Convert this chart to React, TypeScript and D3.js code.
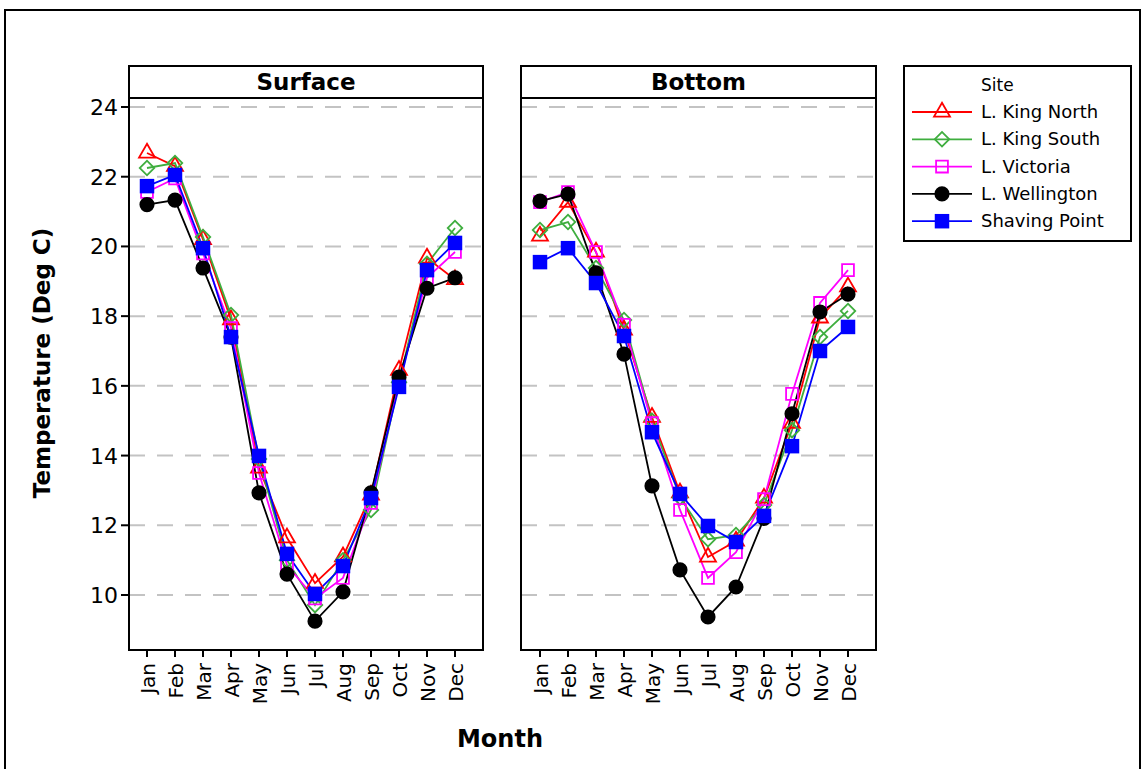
import React from "react";
import * as d3 from "d3";

const months = ["Jan","Feb","Mar","Apr","May","Jun","Jul","Aug","Sep","Oct","Nov","Dec"];
const sites = ["L. King North","L. King South","L. Victoria","L. Wellington","Shaving Point"];
const yTicks = [10,12,14,16,18,20,22,24];

const surfaceKingNorth = [22.68,22.3,20.2,17.9,13.64,11.64,10.34,11.1,12.87,16.45,19.67,19.05];
const surfaceKingSouth = [22.25,22.39,20.27,18.03,13.9,11.0,9.71,11.0,12.44,16.1,19.5,20.53];
const surfaceVictoria = [21.56,21.95,19.8,17.66,13.5,10.86,9.9,10.49,12.64,16.1,19.1,19.84];
const surfaceWellington = [21.2,21.33,19.38,17.4,12.93,10.6,9.25,10.09,12.93,16.25,18.8,19.1];
const surfaceShaving = [21.73,22.05,19.95,17.4,13.99,11.18,10.03,10.83,12.78,15.97,19.32,20.1];

const bottomKingNorth = [20.3,21.27,19.84,17.6,15.1,12.93,11.09,11.55,12.78,14.93,17.95,18.84];
const bottomKingSouth = [20.47,20.7,19.38,17.89,15.0,12.8,11.6,11.72,12.58,14.73,17.4,18.15];
const bottomVictoria = [21.27,21.56,19.84,17.75,14.93,12.44,10.49,11.23,12.75,15.77,18.38,19.32];
const bottomWellington = [21.3,21.5,19.24,16.91,13.13,10.72,9.37,10.23,12.2,15.2,18.12,18.63];
const bottomShaving = [19.55,19.95,18.95,17.43,14.67,12.9,11.98,11.52,12.27,14.27,17.0,17.69];

const panels = [
  { title: "Surface", series: [surfaceKingNorth, surfaceKingSouth, surfaceVictoria, surfaceWellington, surfaceShaving] },
  { title: "Bottom", series: [bottomKingNorth, bottomKingSouth, bottomVictoria, bottomWellington, bottomShaving] },
];

const colors = ["#ff0000", "#3fae3f", "#ff00ff", "#000000", "#0000ff"];
const FONT = "'DejaVu Sans', Verdana, sans-serif";

type Style = { type: any; size: number; fill: string; rotate: number; open: boolean };
const styles: Style[] = [
  { type: d3.symbolTriangle, size: 110, fill: "none", rotate: 0, open: true },
  { type: d3.symbolSquare, size: 105, fill: "none", rotate: 45, open: true },
  { type: d3.symbolSquare, size: 140, fill: "none", rotate: 0, open: true },
  { type: d3.symbolCircle, size: 180, fill: "#000000", rotate: 0, open: false },
  { type: d3.symbolSquare, size: 210, fill: "#0000ff", rotate: 0, open: false },
];

function Marker({ i, x, y }: { i: number; x: number; y: number }) {
  const s = styles[i];
  const d = d3.symbol().type(s.type).size(s.size)() as string;
  return (
    <path
      d={d}
      transform={`translate(${x},${y}) rotate(${s.rotate})`}
      fill={s.open ? "white" : s.fill}
      fillOpacity={s.open ? 0 : 1}
      stroke={colors[i]}
      strokeWidth={s.open ? 1.8 : 0}
    />
  );
}

export default function App() {
  const W = 1144, H = 769;
  const panelTop = 98, panelBottom = 650, headerTop = 66;
  const panelX = [[129, 483], [521, 876]];
  const tickX = [[147, 455], [540, 848]];
  const y = d3.scaleLinear().domain([10, 24]).range([595, 107]);

  return (
    <svg width={W} height={H} style={{ position: "absolute", left: 0, top: 0, background: "white" }} fontFamily={FONT}>
      <rect x={0} y={0} width={W} height={H} fill="white" />
      <rect x={5} y={10} width={1135} height={770} fill="none" stroke="black" strokeWidth={2} />

      {panels.map((p, pi) => {
        const [x0, x1] = panelX[pi];
        const x = d3.scalePoint<string>().domain(months).range(tickX[pi] as [number, number]);
        const line = d3.line<number>().x((_, k) => x(months[k])!).y((v) => y(v));
        return (
          <g key={p.title}>
            {yTicks.map((t) => (
              <line key={t} x1={x0} x2={x1} y1={y(t)} y2={y(t)} stroke="#c3c3c3" strokeWidth={2} strokeDasharray="16,12" />
            ))}
            {p.series.map((s, si) => (
              <path key={si} d={line(s) as string} fill="none" stroke={colors[si]} strokeWidth={1.8} />
            ))}
            {p.series.map((s, si) => (
              <g key={"m" + si}>
                {s.map((v, k) => (
                  <Marker key={k} i={si} x={x(months[k])!} y={y(v)} />
                ))}
              </g>
            ))}
            <rect x={x0} y={headerTop} width={x1 - x0} height={panelTop - headerTop} fill="none" stroke="black" strokeWidth={2} />
            <text x={(x0 + x1) / 2} y={90} textAnchor="middle" fontWeight="bold" fontSize={23}>{p.title}</text>
            <rect x={x0} y={panelTop} width={x1 - x0} height={panelBottom - panelTop} fill="none" stroke="black" strokeWidth={2} />
            {months.map((m) => (
              <g key={m}>
                <line x1={x(m)} x2={x(m)} y1={panelBottom} y2={panelBottom + 7} stroke="black" strokeWidth={2} />
                <text
                  transform={`translate(${x(m)! + 7.5},${panelBottom + 13}) rotate(-90)`}
                  textAnchor="end"
                  fontSize={20}
                >{m}</text>
              </g>
            ))}
          </g>
        );
      })}

      {yTicks.map((t) => (
        <g key={t}>
          <line x1={121} x2={129} y1={y(t)} y2={y(t)} stroke="black" strokeWidth={2} />
          <text x={118} y={y(t) + 8} textAnchor="end" fontSize={22}>{t}</text>
        </g>
      ))}

      <text transform={`translate(50,363) rotate(-90)`} textAnchor="middle" fontWeight="bold" fontSize={23}>Temperature (Deg C)</text>
      <text x={500} y={747} textAnchor="middle" fontWeight="bold" fontSize={24}>Month</text>

      <g>
        <rect x={904} y={66} width={227} height={175} fill="white" stroke="black" strokeWidth={2} />
        <text x={981} y={91} fontSize={17}>Site</text>
        {sites.map((s, i) => {
          const ly = 112 + i * 27.3;
          return (
            <g key={s}>
              <line x1={912} x2={972} y1={ly} y2={ly} stroke={colors[i]} strokeWidth={1.8} />
              <Marker i={i} x={942} y={ly} />
              <text x={981} y={ly + 6} fontSize={18}>{s}</text>
            </g>
          );
        })}
      </g>
    </svg>
  );
}
